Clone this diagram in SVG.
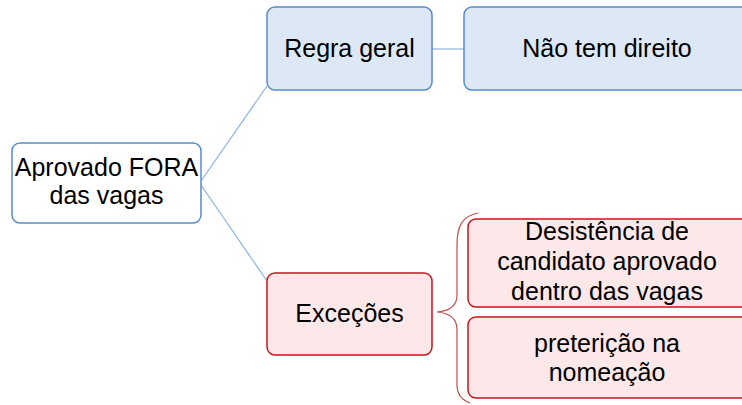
<svg xmlns="http://www.w3.org/2000/svg" width="742" height="405" viewBox="0 0 742 405">
<style>
text{font-family:"Liberation Sans",Arial,sans-serif;font-size:25px;fill:#000;text-anchor:middle}
.blue{fill:#dce8f5;stroke:#5b8ac6;stroke-width:1.5}
.white{fill:#fff;stroke:#5b8ac6;stroke-width:1.5}
.red{fill:#fde8e9;stroke:#c8151b;stroke-width:1.5}
.conn{fill:none;stroke:#8db3e2;stroke-width:1.2}
.brace{fill:none;stroke:#c0504d;stroke-width:1.2}
</style>
<rect width="742" height="405" fill="#fff"/>
<g id="connectors">
<path class="conn" d="M201,181 L267,86"/>
<path class="conn" d="M201,185 L267,281"/>
<path class="conn" d="M432,49 L464,49"/>
<path class="brace" d="M478,213 C463,216 457,225 457,245 L457,295 C457,305 450,311 437,312 C450,313 457,319 457,330 L457,385 C457,395 462,400 470,403"/>
</g>
<g id="aprovado">
<rect class="white" x="12" y="143" width="189" height="80" rx="8"/>
<text x="106.5" y="176">Aprovado FORA</text>
<text x="106.5" y="204">das vagas</text>
</g>
<g id="regra">
<rect class="blue" x="267" y="7" width="165" height="83" rx="8"/>
<text x="349.5" y="57">Regra geral</text>
</g>
<g id="nao">
<rect class="blue" x="464" y="7" width="300" height="83" rx="8"/>
<text x="607" y="57">Não tem direito</text>
</g>
<g id="excecoes">
<rect class="red" x="267" y="273" width="165" height="82" rx="8"/>
<text x="349.5" y="322">Exceções</text>
</g>
<g id="desistencia">
<rect class="red" x="468" y="219" width="300" height="88" rx="8"/>
<text x="607" y="240">Desistência de</text>
<text x="607" y="270">candidato aprovado</text>
<text x="607" y="300">dentro das vagas</text>
</g>
<g id="pretericao">
<rect class="red" x="468" y="317" width="300" height="81" rx="8"/>
<text x="607" y="352">preterição na</text>
<text x="607" y="381">nomeação</text>
</g>
</svg>
